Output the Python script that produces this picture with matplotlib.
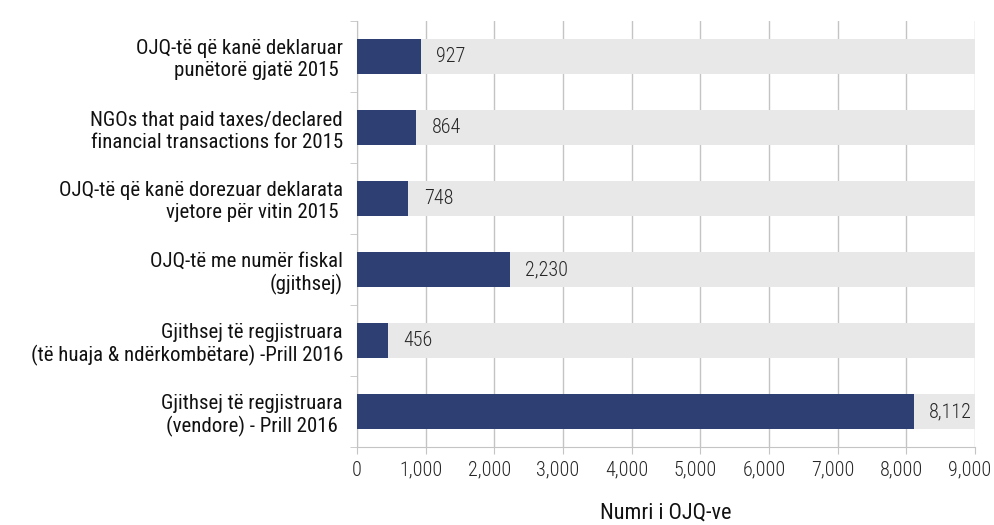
import matplotlib.pyplot as plt
import matplotlib.transforms as mtransforms
from matplotlib.ticker import FuncFormatter

plt.rcParams['font.family'] = ['Roboto Condensed', 'DejaVu Sans']

# data, top to bottom
categories = [
    "OJQ-të që kanë deklaruar\npunëtorë gjatë 2015 ",
    "NGOs that paid taxes/declared\nfinancial transactions for 2015",
    "OJQ-të që kanë dorezuar deklarata\nvjetore për vitin 2015 ",
    "OJQ-të me numër fiskal\n(gjithsej)",
    "Gjithsej të regjistruara\n(të huaja & ndërkombëtare) -Prill 2016",
    "Gjithsej të regjistruara\n(vendore) - Prill 2016 ",
]
values = [927, 864, 748, 2230, 456, 8112]
xmax = 9000

bar_color = "#2e3f73"
band_color = "#e8e8e8"
grid_color = "#c4c4c4"

fig = plt.figure(figsize=(9.94, 5.25), dpi=100)
ax = fig.add_axes([357 / 994, 1 - 447 / 525, 618 / 994, 426 / 525])

ypos = list(range(len(categories)))[::-1]

ax.barh(ypos, [xmax] * len(values), height=0.5, color=band_color, zorder=1)
ax.barh(ypos, values, height=0.5, color=bar_color, zorder=3)

for y, v in zip(ypos, values):
    ax.annotate(f"{v:,}", (v, y), xytext=(11, 0), textcoords="offset points",
                va="center", ha="left", fontsize=14.5, fontweight=300,
                color="#262626", zorder=4)

ax.set_xlim(0, xmax)
ax.set_ylim(-0.5, len(categories) - 0.5)
ax.set_xticks(range(0, xmax + 1, 1000))
ax.xaxis.set_major_formatter(FuncFormatter(lambda x, p: f"{int(x):,}"))
ax.grid(axis="x", color=grid_color, linewidth=1, zorder=0)
ax.set_axisbelow(True)

ax.set_yticks(ypos)
ax.set_yticklabels(categories, fontsize=15, linespacing=1.2, color="#111111")
ax.tick_params(axis="y", length=0, pad=10)
ax.set_yticks([i - 0.5 for i in range(len(categories) + 1)], minor=True)
ax.tick_params(axis="y", which="minor", length=5, color=grid_color)
ax.tick_params(axis="x", length=5, color=grid_color, labelsize=14.5, pad=5,
               labelcolor="#262626")

# excel puts the thousands labels a little left of their ticks
shift = mtransforms.ScaledTranslation(-5 / 100, 0, fig.dpi_scale_trans)
for tick, lab in zip(ax.get_xticks(), ax.get_xticklabels()):
    lab.set_fontweight(300)
    if tick > 0:
        lab.set_transform(lab.get_transform() + shift)

for s in ["top", "right"]:
    ax.spines[s].set_visible(False)
ax.spines["left"].set_color(grid_color)
ax.spines["bottom"].set_color(grid_color)

ax.set_xlabel("Numri i OJQ-ve", fontsize=16, labelpad=16, color="#111111")

fig.savefig("out.png", dpi=100)
